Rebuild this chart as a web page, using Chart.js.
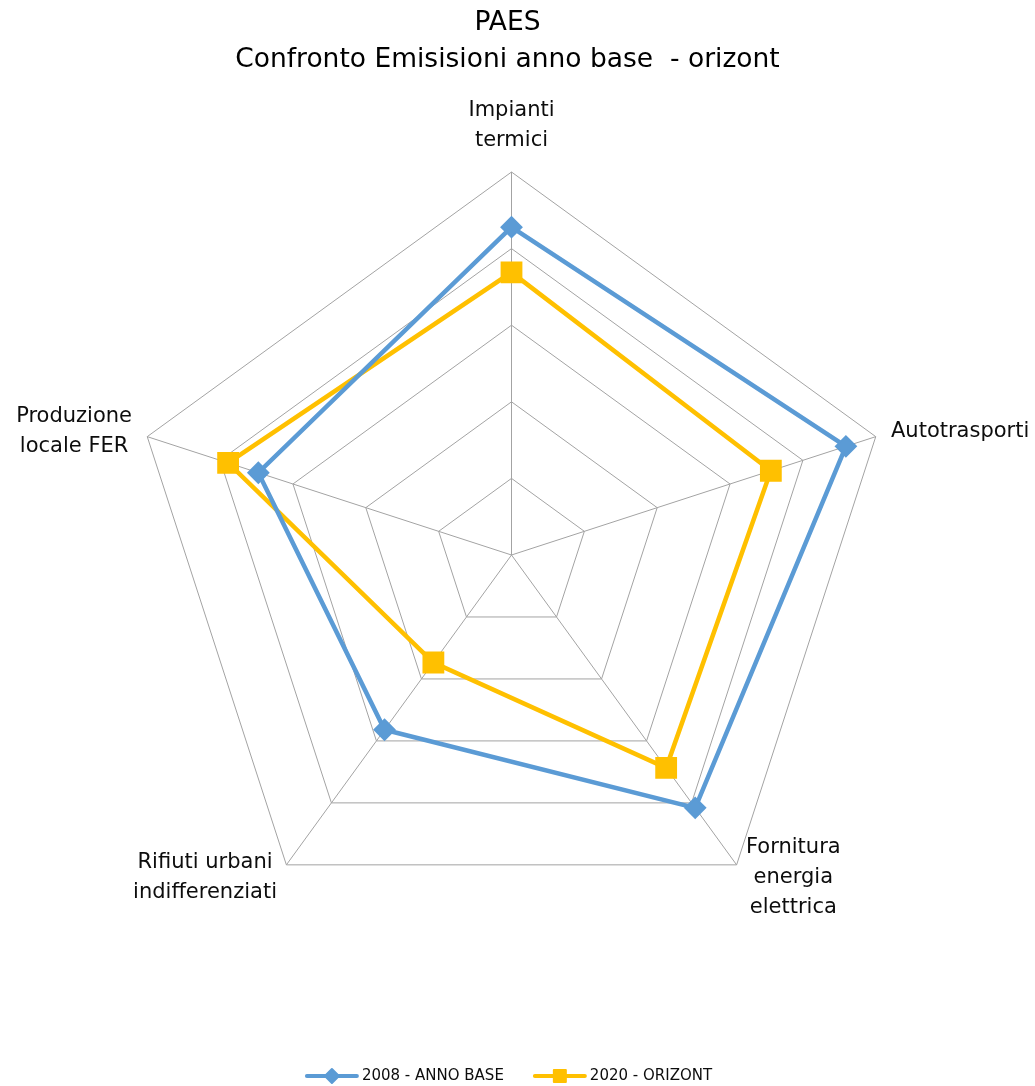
<!DOCTYPE html>
<html>
<head>
<meta charset="utf-8">
<script src="https://cdn.jsdelivr.net/npm/chart.js@4/dist/chart.umd.min.js"></script>
<style>
  html, body { margin: 0; padding: 0; background: #ffffff; }
  canvas { display: block; }
</style>
</head>
<body>
<canvas id="c" width="1035" height="1086"></canvas>
<script>
// ---- data ----
const categories = [
  ['Impianti', 'termici'],
  ['Autotrasporti'],
  ['Fornitura', 'energia', 'elettrica'],
  ['Rifiuti urbani', 'indifferenziati'],
  ['Produzione', 'locale FER']
];
const seriesNames = ['2008 - ANNO BASE', '2020 - ORIZONT'];
const values2008 = [85.6, 91.8, 81.6, 56.4, 69.5];
const values2020 = [73.8, 71.2, 68.7, 34.7, 77.8];
const titleLines = ['PAES', 'Confronto Emisisioni anno base  - orizont'];
const scaleMax = 100;
const scaleStep = 20;

// ---- styles ----
const FONT = '"DejaVu Sans", sans-serif';
const BLUE = '#5B9BD5';
const GOLD = '#FFC000';
const GRID = '#A3A3A3';
const TEXT = '#0d0d0d';

const pointLabelPlugin = {
  id: 'pointLabelsCustom',
  afterDraw(chart) {
    const scale = chart.scales.r;
    const ctx = chart.ctx;
    const pad = 16, lh = 30;
    ctx.save();
    ctx.font = '21px ' + FONT;
    ctx.fillStyle = TEXT;
    ctx.textBaseline = 'middle';
    ctx.textAlign = 'center';
    chart.data.labels.forEach((lab, i) => {
      const lines = Array.isArray(lab) ? lab : [lab];
      const p = scale.getPointPosition(i, scale.drawingArea + pad);
      const dx = p.x - scale.xCenter, dy = p.y - scale.yCenter;
      const bw = Math.max(...lines.map(l => ctx.measureText(l).width));
      const bh = lines.length * lh;
      let cx, top;
      if (Math.abs(dx) < 5) { cx = p.x; }
      else if (dx > 0) { cx = p.x + bw / 2; }
      else { cx = p.x - bw / 2; }
      if (Math.abs(dx) < 5 && dy < 0) { top = p.y - bh; }
      else { top = p.y - bh / 2; }
      lines.forEach((l, k) => ctx.fillText(l, cx, top + lh * k + lh / 2));
    });
    ctx.restore();
  }
};

function drawMarker(ctx, style, x, y, r, color) {
  ctx.save();
  ctx.fillStyle = color;
  ctx.strokeStyle = color;
  ctx.lineWidth = 2;
  ctx.lineJoin = 'round';
  ctx.beginPath();
  if (style === 'rectRot') {
    ctx.moveTo(x, y - r); ctx.lineTo(x + r, y); ctx.lineTo(x, y + r); ctx.lineTo(x - r, y);
  } else {
    ctx.rect(x - r, y - r, 2 * r, 2 * r);
  }
  ctx.closePath();
  ctx.fill(); ctx.stroke();
  ctx.restore();
}

const legendPlugin = {
  id: 'legendCustom',
  afterDraw(chart) {
    const ctx = chart.ctx;
    ctx.save();
    ctx.font = '15px ' + FONT;
    const lineLen = 50, gap = 5, itemGap = 31;
    const items = chart.data.datasets.map(ds => ({
      label: ds.label, color: ds.borderColor, style: ds.pointStyle
    }));
    const widths = items.map(it => lineLen + gap + ctx.measureText(it.label).width);
    const total = widths.reduce((a, b) => a + b, 0) + itemGap * (items.length - 1);
    let x = (chart.width - total) / 2 - 8;
    const y = chart.height - 10;
    items.forEach((it, i) => {
      ctx.strokeStyle = it.color;
      ctx.lineWidth = 4;
      ctx.lineCap = 'round';
      ctx.beginPath(); ctx.moveTo(x, y); ctx.lineTo(x + lineLen, y); ctx.stroke();
      drawMarker(ctx, it.style, x + lineLen / 2, y, it.style === 'rectRot' ? 7 : 6, it.color);
      ctx.fillStyle = TEXT;
      ctx.textBaseline = 'middle';
      ctx.textAlign = 'left';
      ctx.fillText(it.label, x + lineLen + gap, y);
      x += widths[i] + itemGap;
    });
    ctx.restore();
  }
};

new Chart(document.getElementById('c'), {
  type: 'radar',
  data: {
    labels: categories,
    datasets: [
      {
        label: seriesNames[0],
        data: values2008,
        borderColor: BLUE,
        backgroundColor: BLUE,
        borderWidth: 4.5,
        fill: false,
        pointStyle: 'rectRot',
        pointRadius: 10,
        pointBorderWidth: 2,
        pointBackgroundColor: BLUE,
        pointBorderColor: BLUE,
        pointHoverRadius: 10
      },
      {
        label: seriesNames[1],
        data: values2020,
        borderColor: GOLD,
        backgroundColor: GOLD,
        borderWidth: 4.5,
        fill: false,
        pointStyle: 'rect',
        pointRadius: 14,
        pointBorderWidth: 2,
        pointBackgroundColor: GOLD,
        pointBorderColor: GOLD,
        pointHoverRadius: 14
      }
    ]
  },
  options: {
    responsive: false,
    devicePixelRatio: 1,
    animation: false,
    layout: { padding: { left: 0, right: 20, top: 0, bottom: 0 } },
    elements: { line: { tension: 0 } },
    plugins: {
      legend: { display: false },
      tooltip: { enabled: false },
      title: {
        display: true,
        text: titleLines,
        color: '#000000',
        font: { family: FONT, size: 26.5, weight: 'normal', lineHeight: 1.42 },
        padding: { top: 4, bottom: 10 }
      }
    },
    scales: {
      r: {
        min: 0,
        max: scaleMax,
        ticks: { display: false, stepSize: scaleStep },
        grid: { color: GRID, lineWidth: 1 },
        angleLines: { color: GRID, lineWidth: 1 },
        pointLabels: { display: false },
        afterFit(s) {
          s.xCenter = 511.5;
          s.yCenter = 555;
          s.drawingArea = 383;
        }
      }
    }
  },
  plugins: [pointLabelPlugin, legendPlugin]
});
</script>
</body>
</html>
